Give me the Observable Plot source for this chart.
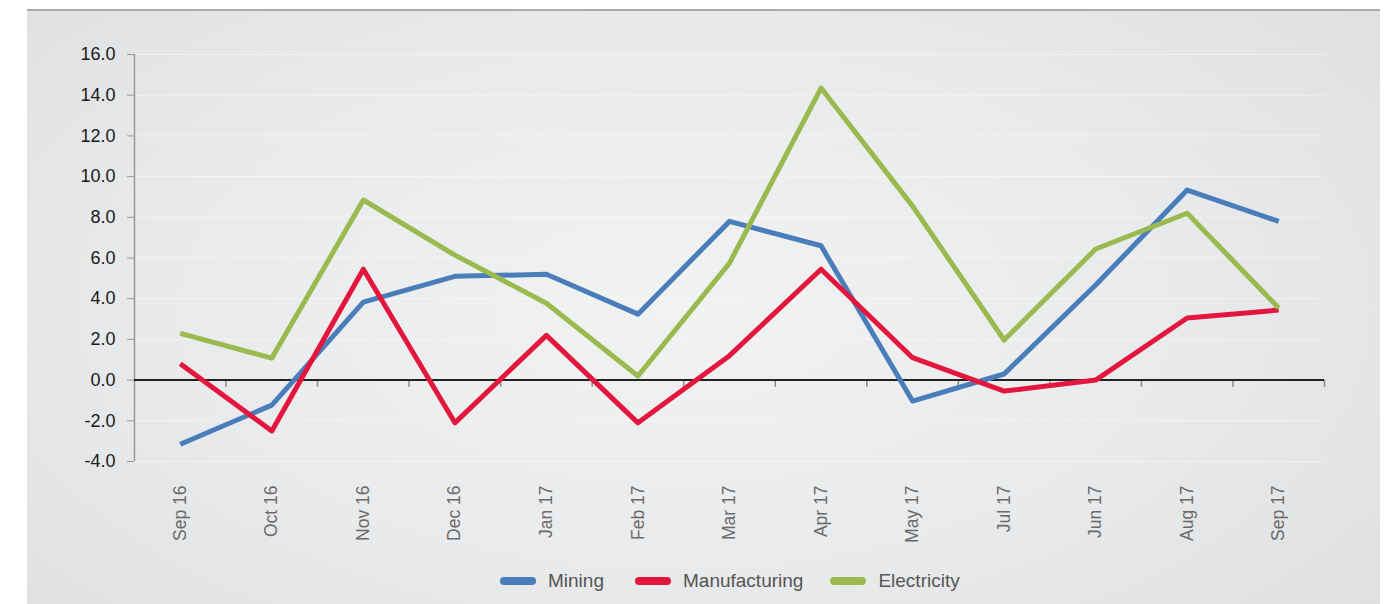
<!DOCTYPE html>
<html>
<head>
<meta charset="utf-8">
<script src="https://cdn.jsdelivr.net/npm/d3@7"></script>
<script src="https://cdn.jsdelivr.net/npm/@observablehq/plot@0.6"></script>
<style>
  html, body { margin: 0; padding: 0; background: #ffffff; }
  body { width: 1397px; height: 604px; position: relative; overflow: hidden; font-family: "Liberation Sans", Arial, Helvetica, sans-serif; }
  #panel {
    position: absolute; left: 27px; top: 9px; width: 1353px; height: 595px;
    box-sizing: border-box; border-top: 2px solid #a9a9a9;
    background: radial-gradient(ellipse 75% 90% at 48% 50%, #f1f2f2 0%, #e9eaeb 50%, #dcdddf 100%);
  }
  #chart { position: absolute; left: 0; top: 0; }
  #legend {
    position: absolute; left: 473px; top: 559px; display: flex; align-items: center;
    font-size: 19px; color: #555; white-space: nowrap;
  }
  .item { display: flex; align-items: center; }
  .sw { width: 36px; height: 8px; border-radius: 4px; margin-right: 12px; }
</style>
</head>
<body>
<div id="panel">
  <div id="chart"></div>
  <div id="legend"></div>
</div>
<script>
const categories = ["Sep 16","Oct 16","Nov 16","Dec 16","Jan 17","Feb 17","Mar 17","Apr 17","May 17","Jul 17","Jun 17","Aug 17","Sep 17"];
const seriesNames = ["Mining","Manufacturing","Electricity"];
const seriesColors = ["#4a7ebb","#e3173e","#9aba4f"];
const mining =        [-3.15, -1.23, 3.83, 5.1, 5.2, 3.24, 7.8, 6.6, -1.03, 0.3, 4.67, 9.34, 7.8];
const manufacturing = [0.8, -2.5, 5.45, -2.1, 2.2, -2.1, 1.2, 5.45, 1.1, -0.54, 0.0, 3.05, 3.44];
const electricity =   [2.3, 1.08, 8.85, 6.14, 3.78, 0.2, 5.75, 14.35, 8.55, 1.97, 6.44, 8.2, 3.54];
const yTicks = [-4, -2, 0, 2, 4, 6, 8, 10, 12, 14, 16];

const seriesValues = [mining, manufacturing, electricity];
const data = [];
seriesNames.forEach((s, k) => seriesValues[k].forEach((v, i) => data.push({series: s, i, v})));
const idx = categories.map((_, i) => i);
const bounds = categories.map((_, i) => i + 0.5);

const chart = Plot.plot({
  width: 1353,
  height: 534,
  marginLeft: 107,
  marginRight: 56,
  marginTop: 43,
  marginBottom: 84,
  style: {background: "transparent", fontFamily: "Liberation Sans, Arial, Helvetica, sans-serif"},
  x: {domain: [-0.5, categories.length - 0.5]},
  y: {domain: [-4, 16]},
  color: {domain: seriesNames, range: seriesColors},
  marks: [
    Plot.gridY(yTicks, {stroke: "#ffffff", strokeOpacity: 0.45, strokeWidth: 1}),
    Plot.axisY(yTicks, {tickFormat: d => d.toFixed(1), tickSize: 7, tickPadding: 12, fontSize: 18, fill: "#1a1a1a", stroke: "#999", label: null}),
    Plot.ruleX([-0.5], {y1: -4, y2: 16, stroke: "#999", strokeWidth: 1.5}),
    Plot.axisX(idx, {tickFormat: i => categories[i], tickRotate: -90, tickSize: 0, tickPadding: 24, fontSize: 17.5, fill: "#6a6a6a", label: null}),
    Plot.ruleX(bounds, {y1: 0, y2: -0.35, stroke: "#888", strokeWidth: 1.5}),
    Plot.ruleY([0], {x1: -0.5, x2: categories.length - 0.5, stroke: "#222", strokeWidth: 2}),
    Plot.line(data, {x: "i", y: "v", z: "series", stroke: "series", strokeWidth: 5, strokeLinejoin: "round", strokeLinecap: "butt"})
  ]
});
document.getElementById("chart").appendChild(chart);

const legend = document.getElementById("legend");
const gaps = [31, 27, 0];
seriesNames.forEach((s, k) => {
  const it = document.createElement("div");
  it.className = "item";
  it.style.marginRight = gaps[k] + "px";
  const sw = document.createElement("div");
  sw.className = "sw";
  sw.style.background = seriesColors[k];
  const t = document.createElement("span");
  t.textContent = s;
  it.appendChild(sw); it.appendChild(t);
  legend.appendChild(it);
});
</script>
</body>
</html>
